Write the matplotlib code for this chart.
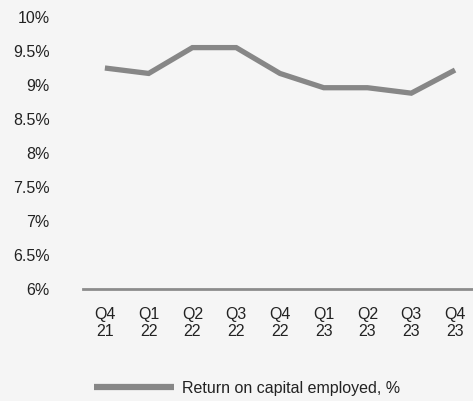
import matplotlib
matplotlib.use("Agg")
import matplotlib.pyplot as plt

quarters = ["Q4\n21", "Q1\n22", "Q2\n22", "Q3\n22", "Q4\n22", "Q1\n23", "Q2\n23", "Q3\n23", "Q4\n23"]
roce = [9.25, 9.17, 9.55, 9.55, 9.17, 8.96, 8.96, 8.88, 9.22]
yticks = [6, 6.5, 7, 7.5, 8, 8.5, 9, 9.5, 10]
ylabels = ["6%", "6.5%", "7%", "7.5%", "8%", "8.5%", "9%", "9.5%", "10%"]

plt.rcParams['font.family'] = ['Liberation Sans', 'DejaVu Sans']
bg = '#f5f5f5'
fs = 11.5
fig = plt.figure(figsize=(4.73, 4.01), dpi=100, facecolor=bg)
ax = fig.add_axes([83/473, (401-289)/401, 1-83/473, (289-17)/401], facecolor=bg)

x = list(range(len(quarters)))
ax.plot(x, roce, color='#878787', lw=3.8, solid_joinstyle='miter', solid_capstyle='butt',
        label='Return on capital employed, %')
ax.set_xlim(-0.5, 8.41)
ax.set_ylim(6, 10)
ax.set_yticks(yticks)
ax.set_yticklabels(ylabels)
ax.set_xticks(x)
ax.set_xticklabels(quarters, linespacing=1.2)
for s in ['top', 'right', 'left']:
    ax.spines[s].set_visible(False)
ax.spines['bottom'].set_color('#8c8c8c')
ax.spines['bottom'].set_linewidth(2)
ax.tick_params(axis='y', length=0, pad=24, labelsize=fs, labelcolor='#222222')
ax.tick_params(axis='x', length=0, pad=13, labelsize=fs, labelcolor='#222222')

leg = fig.legend(loc='center', bbox_to_anchor=(0.523, 1-388/401), frameon=False,
                 handlelength=5.0, handletextpad=0.5, fontsize=fs, labelcolor='#222222')
for h in leg.get_lines():
    h.set_linewidth(4.5)

fig.savefig('out.png', dpi=100, facecolor=bg)
